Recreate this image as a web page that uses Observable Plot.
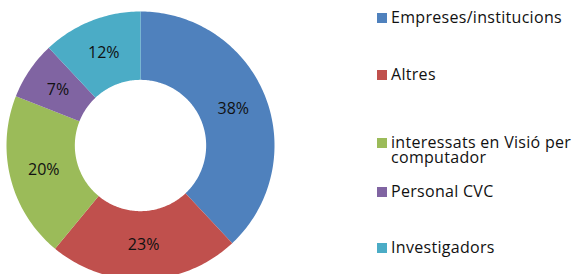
<!DOCTYPE html>
<html><head><meta charset="utf-8">
<script src="https://cdn.jsdelivr.net/npm/d3@7"></script>
<script src="https://cdn.jsdelivr.net/npm/@observablehq/plot@0.6"></script>
<style>
body{margin:0;background:#fff;}
#wrap{position:relative;width:574px;height:274px;overflow:hidden;}
#legend{position:absolute;left:377px;top:0;width:197px;height:274px;}
#legend .lg-swatches{margin:0!important;columns:auto!important;font-family:"Open Sans",sans-serif!important;font-size:16px!important;color:#111!important;letter-spacing:0.3px;}
#legend .lg-swatch{position:absolute;left:0;display:flex!important;align-items:flex-start!important;padding:0!important;margin:0!important;line-height:16px;}
#legend .lg-swatch svg{flex-shrink:0;margin:3px 4px 0 0!important;}
#legend .lg-swatch-label{white-space:normal!important;overflow:visible!important;width:185px;line-height:15px;}
#legend .lg-swatch:nth-child(2){top:10px;}
#legend .lg-swatch:nth-child(3){top:67px;}
#legend .lg-swatch:nth-child(4){top:135px;}
#legend .lg-swatch:nth-child(5){top:184px;}
#legend .lg-swatch:nth-child(6){top:240px;}
</style></head><body><div id="wrap"><div id="legend"></div></div>
<script>
const categories = ["Empreses/institucions", "Altres", "interessats en Visió per computador", "Personal CVC", "Investigadors"];
const values = [38, 23, 20, 7, 12];
const valueLabels = ["38%", "23%", "20%", "7%", "12%"];
const colors = ["#4F81BD", "#C0504D", "#9BBB59", "#8064A2", "#4BACC6"];

const W = 574, H = 274;
const cx = 140, cy = 145, R = 134;
const innerRatio = 0.49;

const arcs = d3.pie().sort(null).value(d => d.value)(categories.map((name, i) => ({name, value: values[i], label: valueLabels[i]})));

const polys = [];
const labelPts = [];
for (const a of arcs) {
  const n = Math.max(2, Math.ceil((a.endAngle - a.startAngle) / (Math.PI / 180)));
  for (let k = 0; k <= n; k++) {
    const t = a.startAngle + (a.endAngle - a.startAngle) * k / n;
    polys.push({name: a.data.name, x: Math.sin(t), y: Math.cos(t)});
  }
  for (let k = n; k >= 0; k--) {
    const t = a.startAngle + (a.endAngle - a.startAngle) * k / n;
    polys.push({name: a.data.name, x: innerRatio * Math.sin(t), y: innerRatio * Math.cos(t)});
  }
  const m = (a.startAngle + a.endAngle) / 2, rm = (1 + innerRatio) / 2;
  labelPts.push({name: a.data.name, label: a.data.label, x: rm * Math.sin(m), y: rm * Math.cos(m)});
}

const chart = Plot.plot({
  width: W, height: H,
  margin: 0,
  x: {domain: [(0 - cx) / R, (W - cx) / R], range: [0, W], axis: null},
  y: {domain: [(cy - H) / R, cy / R], range: [H, 0], axis: null},
  color: {domain: categories, range: colors},
  style: {background: "white"},
  marks: [
    Plot.line(polys, {x: "x", y: "y", z: "name", fill: "name", stroke: null, curve: "linear-closed"}),
    Plot.text(labelPts, {x: "x", y: "y", text: "label", fill: "#111", fontSize: 16, fontFamily: "Open Sans, sans-serif"})
  ]
});
document.getElementById("wrap").prepend(chart);

const leg = Plot.legend({color: {type: "ordinal", domain: categories, range: colors}, columns: 1, swatchSize: 10, className: "lg"});
document.getElementById("legend").append(leg);
</script>
</body></html>
